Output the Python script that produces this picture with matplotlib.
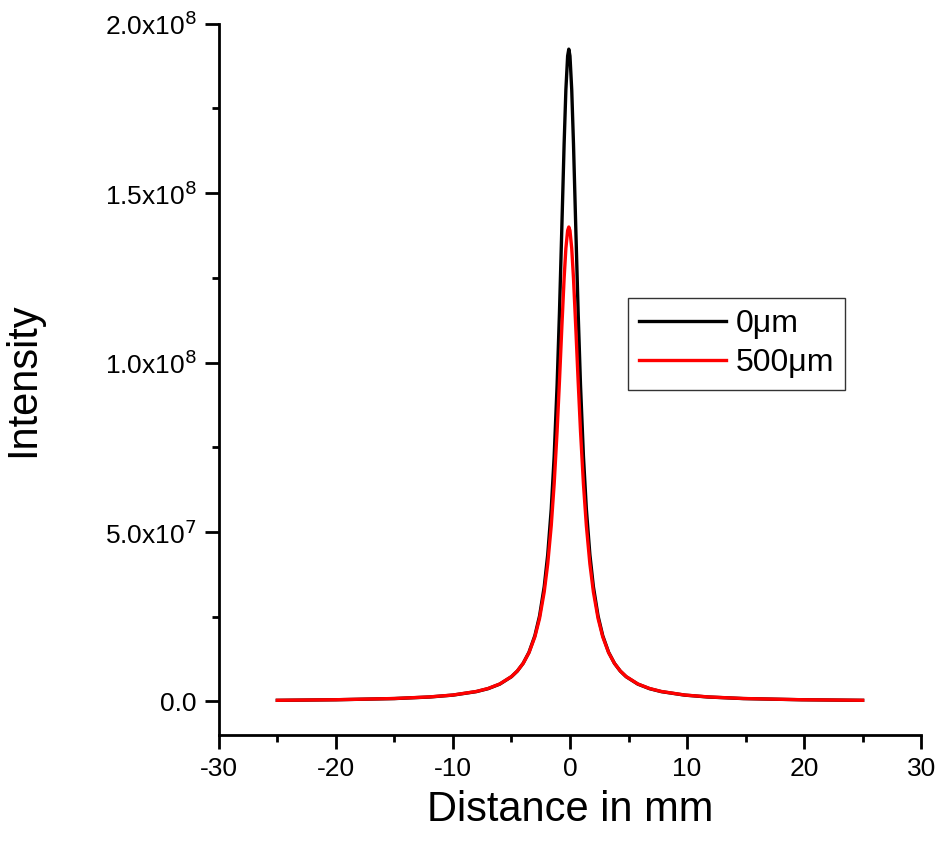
import matplotlib

matplotlib.use("Agg")
import matplotlib.pyplot as plt
from matplotlib.ticker import FuncFormatter, MultipleLocator

plt.rcParams["font.family"] = ["Liberation Sans", "DejaVu Sans"]
plt.rcParams["axes.unicode_minus"] = False

# distance (mm) and intensity (in units of 1e6)
distance = [-25, -20, -15, -12, -10, -8, -7, -6, -5, -4.5, -4, -3.5, -3, -2.6, -2.2,
            -1.9, -1.6, -1.35, -1.1, -0.9, -0.7, -0.5, -0.35, -0.2, -0.1, 0, 0.15,
            0.3, 0.5, 0.7, 0.9, 1.15, 1.4, 1.7, 2.0, 2.4, 2.8, 3.3, 3.8, 4.3, 4.8,
            5.8, 6.8, 7.8, 9.8, 11.8, 14.8, 19.8, 25]
int_0um = [0.29, 0.46, 0.81, 1.27, 1.83, 2.86, 3.73, 5.07, 7.26, 8.92, 11.21, 14.49,
           19.37, 25.19, 33.85, 43.33, 56.77, 72.35, 93.32, 114.57, 139.23, 164.53,
           180.51, 190.48, 192.5, 190.48, 180.51, 164.53, 139.23, 114.57, 93.32,
           72.35, 56.77, 43.33, 33.85, 25.19, 19.37, 14.49, 11.21, 8.92, 7.26, 5.07,
           3.73, 2.86, 1.83, 1.27, 0.81, 0.46, 0.29]
int_500um = [0.30, 0.47, 0.83, 1.30, 1.86, 2.91, 3.78, 5.12, 7.31, 8.95, 11.20, 14.37,
             19.02, 24.45, 32.30, 40.58, 51.83, 64.18, 79.72, 94.35, 110.05, 124.89,
             133.68, 138.95, 140.0, 138.95, 133.68, 124.89, 110.05, 94.35, 79.72,
             64.18, 51.83, 40.58, 32.30, 24.45, 19.02, 14.37, 11.20, 8.95, 7.31, 5.12,
             3.78, 2.91, 1.86, 1.30, 0.83, 0.47, 0.30]
labels = ["0\u03bcm", "500\u03bcm"]


def sci_label(v, pos):
    if abs(v) < 1:
        return "0.0"
    exp = len(str(int(round(abs(v))))) - 1
    return f"{v / 10**exp:.1f}x10$^{{{exp}}}$"


fig = plt.figure(figsize=(9.39, 8.47), dpi=100)
ax = fig.add_axes([0.233, 0.132, 0.748, 0.840])

ax.plot(distance, [v * 1e6 for v in int_0um], color="black", lw=2.4, label=labels[0])
ax.plot(distance, [v * 1e6 for v in int_500um], color="red", lw=2.4, label=labels[1])

ax.set_xlim(-30, 30)
ax.set_ylim(-1e7, 2e8)
ax.xaxis.set_major_locator(MultipleLocator(10))
ax.xaxis.set_minor_locator(MultipleLocator(5))
ax.yaxis.set_major_locator(MultipleLocator(5e7))
ax.yaxis.set_minor_locator(MultipleLocator(2.5e7))
ax.yaxis.set_major_formatter(FuncFormatter(sci_label))

for side in ("top", "right"):
    ax.spines[side].set_visible(False)
for side in ("left", "bottom"):
    ax.spines[side].set_linewidth(2.0)
ax.tick_params(which="major", direction="out", length=10, width=2.0, labelsize=19, pad=6)
ax.tick_params(which="minor", direction="out", length=5, width=2.0)

ax.set_xlabel("Distance in mm", fontsize=30, labelpad=6)
ax.set_ylabel("Intensity", fontsize=30, labelpad=44)

leg = ax.legend(loc="upper left", bbox_to_anchor=(0.583, 0.615), borderaxespad=0,
                fontsize=23, frameon=True, fancybox=False, edgecolor="black",
                handlelength=2.7, handletextpad=0.3, borderpad=0.35, labelspacing=0.3)
leg.get_frame().set_linewidth(1.0)

fig.savefig("out.png", dpi=100)
plt.close(fig)
